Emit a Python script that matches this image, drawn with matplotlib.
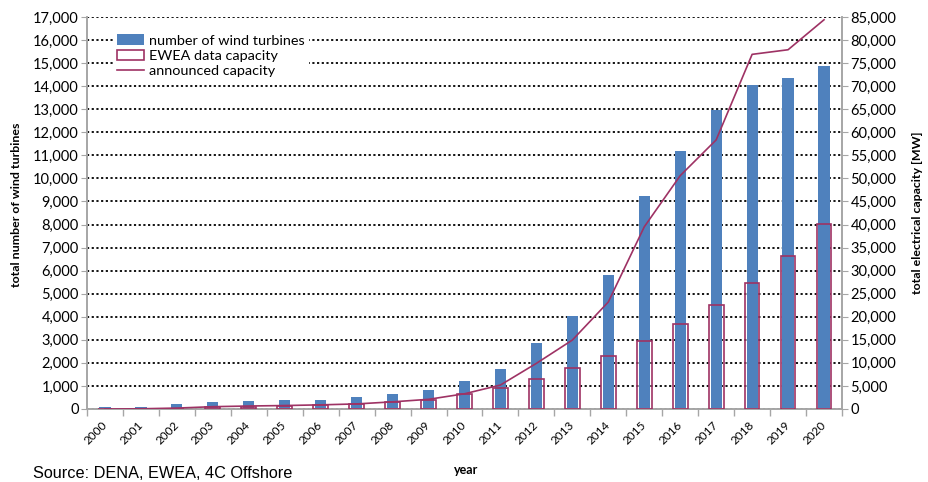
import matplotlib.pyplot as plt
import numpy as np
from matplotlib.patches import Patch
from matplotlib.lines import Line2D

plt.rcParams['font.family'] = ['Lato', 'DejaVu Sans']

years = [str(y) for y in range(2000, 2021)]
turbines = [80, 90, 230, 300, 360, 390, 390, 520, 650, 820, 1200,
            1720, 2850, 4050, 5800, 9250, 11200, 12970, 14050, 14350, 14870]
ewea_capacity = [0, 0, 100, 500, 500, 700, 800, 1100, 1500, 2000, 3150,
                 4600, 6550, 8900, 11500, 14850, 18400, 22550, 27400, 33200, 40100]
announced = [0, 50, 200, 500, 650, 750, 900, 1100, 1550, 2100, 3300,
             5200, 9900, 14950, 23200, 39500, 50600, 58350, 76900, 77900, 84400]

blue = '#4F81BD'
wine = '#9E3264'
grey = '#A6A6A6'

fig = plt.figure(figsize=(9.29, 4.82), dpi=100)
ax1 = fig.add_axes([87 / 929, 73 / 482, 755 / 929, 392 / 482])
ax2 = ax1.twinx()

x = np.arange(len(years))
ax1.bar(x, turbines, width=0.31, color=blue, zorder=2)
ax2.bar(x, ewea_capacity, width=0.41, facecolor='none', edgecolor=wine, linewidth=1.2, zorder=3)
ax2.plot(x, announced, color=wine, linewidth=1.2, zorder=4)

ax1.set_xlim(-0.5, len(years) - 0.5)
ax1.set_ylim(0, 17000)
ax2.set_ylim(0, 85000)
ax1.set_yticks(np.arange(0, 17001, 1000))
ax2.set_yticks(np.arange(0, 85001, 5000))
ax1.set_yticklabels([f'{v:,}' for v in range(0, 17001, 1000)])
ax2.set_yticklabels([f'{v:,}' for v in range(0, 85001, 5000)])

ax1.yaxis.grid(True, color='black', linestyle=(0, (1.2, 1.4)), linewidth=1.3, zorder=0)
ax1.set_axisbelow(True)

ax1.set_xticks(x)
ax1.set_xticklabels(years, rotation=45, ha='right', va='center', rotation_mode='anchor', fontsize=8.5)
ax1.set_xticks(np.arange(-0.5, len(years), 1), minor=True)
ax1.tick_params(axis='x', which='major', length=0, pad=10)
ax1.tick_params(axis='x', which='minor', length=5, color=grey, width=1)
ax1.tick_params(axis='y', length=4, color=grey, labelsize=10.5, pad=2)
ax2.tick_params(axis='y', length=4, color=grey, labelsize=10.5, pad=2)

for ax in (ax1, ax2):
    ax.spines['top'].set_visible(False)
    for s in ('left', 'right', 'bottom'):
        ax.spines[s].set_color(grey)
        ax.spines[s].set_linewidth(1.2)

ax1.set_ylabel('total number of wind turbines', fontsize=8.9, fontweight='bold')
ax2.set_ylabel('total electrical capacity [MW]', fontsize=8.9, fontweight='bold')
ax1.yaxis.set_label_coords(-0.086, 0.52)
ax2.yaxis.set_label_coords(1.093, 0.5)
fig.text(466 / 929, 1 - 470 / 482, 'year', fontsize=9, fontweight='bold', ha='center', va='center')

handles = [Patch(facecolor=blue, edgecolor='none'),
           Patch(facecolor='white', edgecolor=wine, linewidth=1.2),
           Line2D([0], [0], color=wine, linewidth=1.2)]
labels = ['number of wind turbines', 'EWEA data capacity', 'announced capacity']
leg = ax2.legend(handles, labels, loc='upper left', bbox_to_anchor=(0.025, 0.985),
                 fontsize=10.4, frameon=True, facecolor='white', edgecolor='none',
                 framealpha=1, fancybox=False, handlelength=1.85, handletextpad=0.35,
                 labelspacing=0.22, borderpad=0.3)

# source note sits on the bottom edge, like in the original figure
fig.text(33 / 929, 1 - 478 / 482, 'Source: DENA, EWEA, 4C Offshore', fontsize=11.7,
         family='Liberation Sans', ha='left', va='baseline')

fig.savefig('out.png', dpi=100)
